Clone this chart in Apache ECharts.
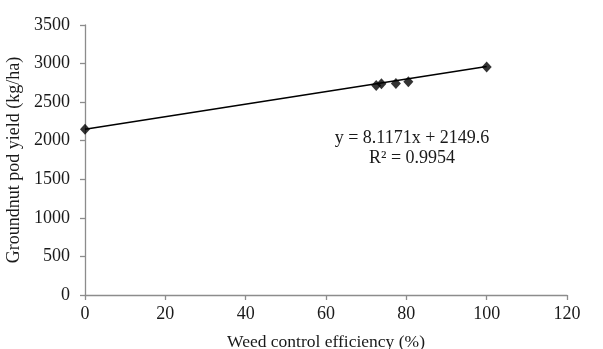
<!DOCTYPE html>
<html>
<head>
<meta charset="utf-8">
<script src="https://cdn.jsdelivr.net/npm/echarts@6/dist/echarts.min.js"></script>
<style>
html,body{margin:0;padding:0;background:#fff;}
#chart{width:603px;height:349px;}
</style>
</head>
<body>
<div id="chart"></div>
<script>
// Data
var efficiency = [0, 72.5, 73.8, 77.4, 80.5, 100];
var podYield = [2150, 2715, 2740, 2742, 2765, 2955];
var trendX = [0, 100];
var trendY = [2150, 2961];
var xTicks = [0, 20, 40, 60, 80, 100, 120];
var yTicks = [0, 500, 1000, 1500, 2000, 2500, 3000, 3500];
var equationText = 'y = 8.1171x + 2149.6';
var r2Text = 'R² = 0.9954';

var font = '"Liberation Serif", "Times New Roman", serif';
var points = efficiency.map(function (x, i) { return [x, podYield[i]]; });
var trend = trendX.map(function (x, i) { return [x, trendY[i]]; });

var chart = echarts.init(document.getElementById('chart'), null, {renderer: 'canvas'});
chart.setOption({
  animation: false,
  backgroundColor: '#fff',
  grid: {left: 85, right: 36, top: 25, bottom: 54, containLabel: false, outerBoundsMode: 'none'},
  xAxis: {
    type: 'value',
    min: xTicks[0], max: xTicks[xTicks.length - 1], interval: 20,
    name: 'Weed control efficiency (%)',
    nameLocation: 'middle', nameGap: 38,
    nameTextStyle: {fontFamily: font, fontSize: 17.5, color: '#1a1a1a'},
    axisLine: {show: true, lineStyle: {color: '#8c8c8c', width: 1.3}},
    axisTick: {show: true, length: 5, lineStyle: {color: '#8c8c8c', width: 1.3}},
    axisLabel: {fontFamily: font, fontSize: 18, color: '#1a1a1a', margin: 10,
      formatter: function (v) { return String(v); }},
    splitLine: {show: false}
  },
  yAxis: {
    type: 'value',
    min: yTicks[0], max: yTicks[yTicks.length - 1], interval: 500,
    name: 'Groundnut pod yield (kg/ha)',
    nameLocation: 'middle', nameGap: 56,
    nameTextStyle: {fontFamily: font, fontSize: 18, color: '#1a1a1a'},
    axisLine: {show: true, lineStyle: {color: '#8c8c8c', width: 1.3}},
    axisTick: {show: true, length: 5, lineStyle: {color: '#8c8c8c', width: 1.3}},
    axisLabel: {fontFamily: font, fontSize: 18, color: '#1a1a1a', margin: 15,
      formatter: function (v) { return String(v); }},
    splitLine: {show: false}
  },
  series: [
    {
      type: 'line',
      data: trend,
      symbol: 'none',
      lineStyle: {color: '#000', width: 1.5},
      silent: true,
      z: 2
    },
    {
      type: 'scatter',
      data: points,
      symbol: 'diamond',
      symbolSize: [10, 11],
      itemStyle: {color: '#000'},
      z: 3
    }
  ],
  graphic: [
    {
      type: 'text',
      z: 10,
      style: {
        x: 412, y: 138,
        text: equationText,
        font: '18px ' + font,
        fill: '#1a1a1a',
        textAlign: 'center',
        textVerticalAlign: 'middle'
      }
    },
    {
      type: 'text',
      z: 10,
      style: {
        x: 412, y: 158,
        text: r2Text,
        font: '18px ' + font,
        fill: '#1a1a1a',
        textAlign: 'center',
        textVerticalAlign: 'middle'
      }
    }
  ]
});
</script>
</body>
</html>
